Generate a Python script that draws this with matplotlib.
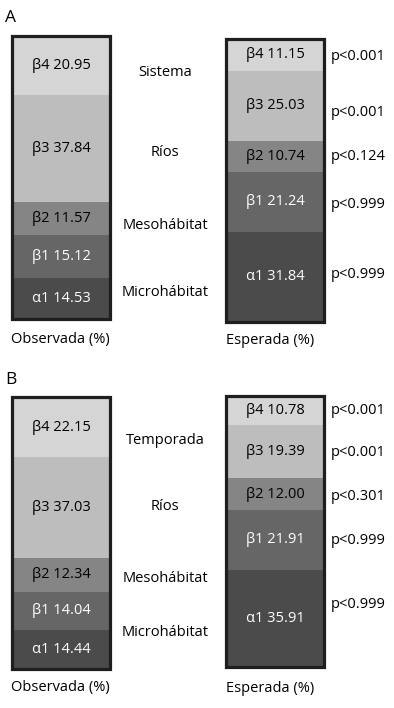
import numpy as np
import matplotlib.pyplot as plt
from matplotlib.patches import Rectangle

plt.rcParams['font.family'] = ['Open Sans', 'DejaVu Sans']
plt.rcParams['font.size'] = 10.5

W, H = 394, 708

# segments listed bottom -> top
segments = ['α1', 'β1', 'β2', 'β3', 'β4']
colors = ['#4b4b4b', '#666666', '#858585', '#bdbdbd', '#d5d5d5']
text_colors = ['white', 'white', 'black', 'black', 'black']

obs_a = [14.53, 15.12, 11.57, 37.84, 20.95]
esp_a = [31.84, 21.24, 10.74, 25.03, 11.15]
obs_b = [14.44, 14.04, 12.34, 37.03, 22.15]
esp_b = [35.91, 21.91, 12.00, 19.39, 10.78]

levels_a = ['Microhábitat', 'Mesohábitat', 'Ríos', 'Sistema']
levels_b = ['Microhábitat', 'Mesohábitat', 'Ríos', 'Temporada']
pvals_a = ['p<0.999', 'p<0.999', 'p<0.124', 'p<0.001', 'p<0.001']
pvals_b = ['p<0.999', 'p<0.999', 'p<0.301', 'p<0.001', 'p<0.001']

fig = plt.figure(figsize=(W / 100, H / 100), dpi=100)


def stacked_bar(values, left, right, top, bottom):
    ax = fig.add_axes([left / W, 1 - bottom / H, (right - left) / W, (bottom - top) / H])
    base = 0
    for seg, v, c, tc in zip(segments, values, colors, text_colors):
        ax.bar(0.5, v, width=1.0, bottom=base, color=c, edgecolor='none')
        ax.text(0.5, base + v / 2, f'{seg} {v:.2f}', color=tc,
                ha='center', va='center')
        base += v
    ax.set_xlim(0, 1)
    ax.set_ylim(0, sum(values))
    ax.axis('off')
    ax.add_patch(Rectangle((0, 0), 1, sum(values), transform=ax.transData,
                           fill=False, edgecolor='#1e1e1e', linewidth=2.3,
                           clip_on=False))
    return ax


def ftext(x, y, s, **kw):
    fig.text(x / W, 1 - y / H, s, va='center', **kw)


# panel A
ftext(5, 18, 'A', fontsize=12.5)
stacked_bar(obs_a, 12, 110, 36, 319)
stacked_bar(esp_a, 226, 324, 39, 322)
for lab, y in zip(levels_a, [292, 225, 153, 72]):
    ftext(165, y, lab, ha='center')
for p, y in zip(pvals_a, [275, 205, 157, 112, 56]):
    ftext(331, y, p, ha='left')
ftext(11, 340, 'Observada (%)', ha='left')
ftext(226, 340, 'Esperada (%)', ha='left')

# panel B
ftext(5, 380, 'B', fontsize=12.5)
stacked_bar(obs_b, 12, 110, 397, 669)
stacked_bar(esp_b, 226, 324, 396, 667)
for lab, y in zip(levels_b, [633, 579, 507, 440]):
    ftext(165, y, lab, ha='center')
for p, y in zip(pvals_b, [605, 540, 497, 453, 410]):
    ftext(331, y, p, ha='left')
ftext(11, 688, 'Observada (%)', ha='left')
ftext(226, 688, 'Esperada (%)', ha='left')

plt.savefig('out.png', dpi=100)
